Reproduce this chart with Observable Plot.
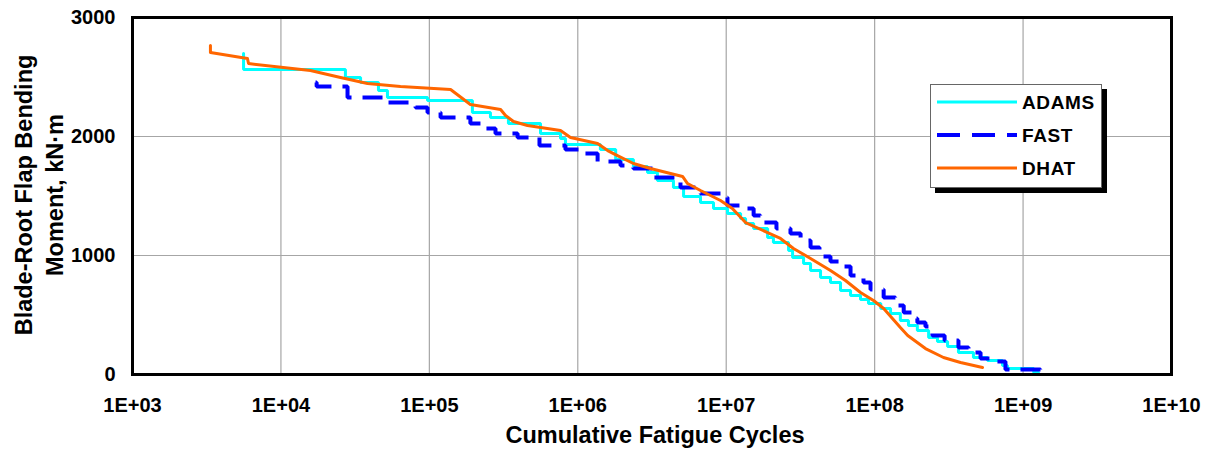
<!DOCTYPE html>
<html>
<head>
<meta charset="utf-8">
<script src="https://cdn.jsdelivr.net/npm/d3@7"></script>
<script src="https://cdn.jsdelivr.net/npm/@observablehq/plot@0.6"></script>
<style>
  body { margin: 0; background: #fff; }
  #wrap { position: relative; width: 1212px; height: 455px; font-family: "Liberation Sans", Arial, sans-serif; }
  #legend { position: absolute; left: 930px; top: 84px; width: 172px; height: 104px; box-sizing: border-box;
            border: 1.5px solid #666; background: #fff; box-shadow: 5px 5px 0 #000; }
</style>
</head>
<body>
<div id="wrap"></div>
<script>
// ---- Tick values ----
const xTicks = [1e3, 1e4, 1e5, 1e6, 1e7, 1e8, 1e9, 1e10];
const yTicks = [0, 1000, 2000, 3000];
const xTitle = "Cumulative Fatigue Cycles";
const yTitle = "Blade-Root Flap Bending\nMoment, kN·m";

// ---- Series names ----
const seriesNames = ["ADAMS", "FAST", "DHAT"];

// ---- ADAMS (stepped) ----
const adamsX = [5.60e3, 5.60e3, 2.72e4, 3.44e4, 4.54e4, 5.22e4, 9.72e4, 1.95e5, 2.58e5, 3.41e5,
  5.61e5, 7.65e5, 8.26e5, 1.42e6, 1.80e6, 2.37e6, 2.95e6, 3.44e6, 4.41e6, 5.16e6,
  6.71e6, 8.21e6, 1.02e7, 1.25e7, 1.35e7, 1.53e7, 1.90e7, 2.08e7, 2.63e7, 2.80e7,
  3.32e7, 3.70e7, 4.32e7, 5.04e7, 5.89e7, 6.88e7, 8.03e7, 9.09e7, 1.10e8, 1.28e8,
  1.49e8, 1.69e8, 1.94e8, 2.31e8, 2.65e8, 3.10e8, 3.67e8, 4.63e8, 5.76e8, 7.27e8,
  7.85e8, 1.18e9, 1.27e9];
const adamsY = [2697, 2563, 2496, 2454, 2386, 2328, 2302, 2202, 2160, 2109,
  2025, 1983, 1933, 1891, 1807, 1748, 1697, 1630, 1571, 1496,
  1445, 1395, 1353, 1311, 1269, 1227, 1151, 1109, 1042, 983,
  933, 874, 815, 773, 706, 664, 630, 597, 555, 513,
  454, 412, 370, 311, 277, 235, 185, 143, 118, 76,
  50, 17, 17];

// ---- FAST (stepped, dashed) ----
const fastX = [1.71e4, 1.74e4, 2.81e4, 4.91e4, 8.07e4, 9.72e4, 1.19e5, 1.89e5, 2.21e5, 2.79e5,
  3.93e5, 5.52e5, 8.26e5, 1.09e6, 1.36e6, 1.94e6, 2.37e6, 3.19e6, 4.92e6, 6.71e6,
  9.15e6, 1.02e7, 1.35e7, 1.53e7, 1.70e7, 2.18e7, 2.71e7, 3.17e7, 3.70e7, 4.25e7,
  5.04e7, 6.26e7, 6.88e7, 8.41e7, 9.38e7, 1.15e8, 1.38e8, 1.57e8, 1.80e8, 1.94e8,
  2.20e8, 2.45e8, 2.96e8, 3.67e8, 4.29e8, 5.17e8, 6.42e8, 7.61e8, 1.31e9, 1.37e9];
const fastY = [2454, 2420, 2328, 2286, 2244, 2202, 2160, 2109, 2067, 2025,
  1992, 1924, 1891, 1857, 1790, 1756, 1731, 1655, 1571, 1521,
  1487, 1420, 1395, 1336, 1277, 1227, 1185, 1126, 1067, 992,
  950, 908, 832, 773, 714, 647, 580, 521, 471, 437,
  403, 328, 286, 227, 185, 134, 109, 42, 8, 8];

// ---- DHAT (smooth) ----
const dhatX = [3.35e3, 3.35e3, 5.95e3, 6.05e3, 1.58e4, 2.52e4, 3.83e4, 6.39e4, 1.39e5, 1.89e5,
  3.02e5, 3.26e5, 3.69e5, 4.58e5, 7.65e5, 8.93e5, 1.36e6, 1.59e6, 1.85e6, 2.37e6,
  3.09e6, 5.08e6, 5.49e6, 6.71e6, 9.15e6, 1.10e7, 1.35e7, 1.90e7, 2.32e7, 2.84e7,
  3.70e7, 5.04e7, 6.36e7, 8.03e7, 9.83e7, 1.15e8, 1.49e8, 1.67e8, 2.20e8, 2.91e8,
  3.79e8, 5.33e8];
const dhatY = [2765, 2706, 2655, 2613, 2555, 2496, 2445, 2420, 2395, 2269,
  2227, 2176, 2126, 2092, 2050, 1992, 1941, 1882, 1840, 1773,
  1731, 1664, 1605, 1546, 1462, 1395, 1277, 1193, 1143, 1059,
  975, 874, 790, 689, 622, 555, 395, 328, 218, 143,
  101, 59];

const toRows = (xs, ys) => xs.map((x, i) => ({x, y: ys[i]}));
const adams = toRows(adamsX, adamsY);
const fast = toRows(fastX, fastY);
const dhat = toRows(dhatX, dhatY);

const styles = [
  {color: "#00FFFF", width: 3, dash: null},
  {color: "#0000FF", width: 4, dash: "20,11"},
  {color: "#FF6600", width: 3, dash: null}
];

const font = "'Liberation Sans', Arial, sans-serif";
const fmtX = d => "1E+" + String(Math.round(Math.log10(d))).padStart(2, "0");

const chart = Plot.plot({
  width: 1212,
  height: 455,
  marginLeft: 132,
  marginRight: 41,
  marginTop: 17,
  marginBottom: 81,
  style: {fontFamily: font, background: "#fff", color: "#000", overflow: "visible"},
  x: {type: "log", domain: [1e3, 1e10]},
  y: {domain: [0, 3000]},
  marks: [
    Plot.gridX({ticks: xTicks, stroke: "#a6a6a6", strokeOpacity: 1, strokeWidth: 1.2}),
    Plot.gridY({ticks: yTicks, stroke: "#a6a6a6", strokeOpacity: 1, strokeWidth: 1.2}),
    Plot.axisX({ticks: xTicks, tickFormat: fmtX, tickSize: 0, tickPadding: 23, fontSize: 20, fontWeight: "bold", label: null}),
    Plot.axisY({ticks: yTicks, tickFormat: d => String(d), tickSize: 0, tickPadding: 17, fontSize: 20, fontWeight: "bold", label: null}),
    Plot.line(adams, {x: "x", y: "y", curve: "step-after", stroke: styles[0].color, strokeWidth: styles[0].width, strokeLinejoin: "miter"}),
    Plot.line(fast, {x: "x", y: "y", curve: "step-after", stroke: styles[1].color, strokeWidth: styles[1].width, strokeDasharray: styles[1].dash, strokeLinecap: "butt", strokeLinejoin: "miter"}),
    Plot.line(dhat, {x: "x", y: "y", curve: "linear", stroke: styles[2].color, strokeWidth: styles[2].width}),
    Plot.frame({stroke: "#000", strokeWidth: 3}),
    Plot.text([xTitle], {frameAnchor: "bottom", textAnchor: "middle", lineAnchor: "middle", dx: 3, dy: 61, fontSize: 23.5, fontWeight: "bold", fill: "#000"}),
    Plot.text([yTitle], {frameAnchor: "left", textAnchor: "middle", lineAnchor: "middle", rotate: -90, dx: -95, dy: -1, lineHeight: 1.32, fontSize: 23.5, fontWeight: "bold", fill: "#000"})
  ]
});

const wrap = document.getElementById("wrap");
wrap.appendChild(chart);

// ---- Legend ----
const legend = document.createElement("div");
legend.id = "legend";
wrap.appendChild(legend);
const lsvg = d3.select(legend).append("svg")
  .attr("width", 169).attr("height", 101)
  .style("position", "absolute").style("left", "0px").style("top", "0px");
const rowY = [17, 50, 83];
seriesNames.forEach((name, i) => {
  const s = styles[i];
  lsvg.append("line")
    .attr("x1", 6).attr("x2", 86).attr("y1", rowY[i]).attr("y2", rowY[i])
    .attr("stroke", s.color).attr("stroke-width", s.width)
    .attr("stroke-dasharray", s.dash ? "23,12" : null);
  lsvg.append("text")
    .attr("x", 91).attr("y", rowY[i] + 7)
    .attr("font-family", font).attr("font-size", 19).attr("font-weight", "bold")
    .attr("letter-spacing", "0.6px").attr("fill", "#000")
    .text(name);
});
</script>
</body>
</html>
